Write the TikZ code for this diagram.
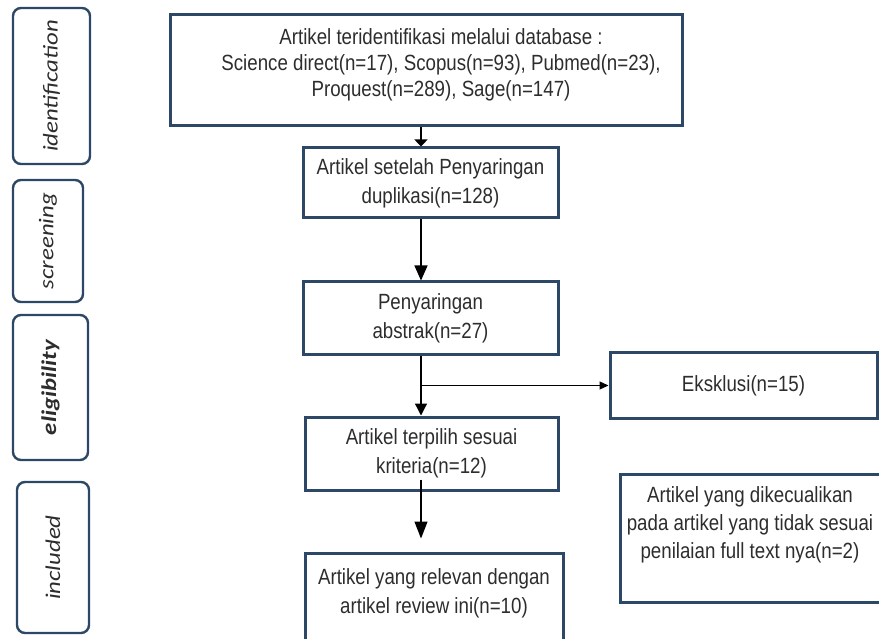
\documentclass[tikz,border=0pt]{standalone}
\usepackage{fontspec}
\setmainfont{Liberation Sans}[FakeStretch=0.85]
\newfontfamily\stagefont{Carlito}[FakeStretch=1.18]
\usetikzlibrary{arrows.meta, positioning}
\definecolor{boxblue}{RGB}{44,72,102}
\definecolor{txtgray}{RGB}{45,45,45}

\begin{document}
\begin{tikzpicture}[x=1pt, y=-1pt,
	boxtext/.style={text=txtgray, align=center, font=\fontsize{22}{29}\selectfont},
	flowbox/.style={boxtext, draw=boxblue, line width=3pt, rectangle, inner sep=0pt},
	stagebox/.style={draw=boxblue, line width=2.4pt, rounded corners=8pt, rotate=90, inner sep=0pt, text=txtgray, font=\stagefont\itshape\fontsize{21}{24}\selectfont},
	flowline/.style={line width=1.3pt, black}]
\useasboundingbox (0,0) rectangle (879,639);
\clip (0,0) rectangle (879,639);

% Draw stage labels
\node[stagebox, minimum width=156pt, minimum height=77pt] (stIdent) at (51.5,86) {identification};
\node[stagebox, minimum width=122pt, minimum height=70pt] (stScreen) at (48,241) {screening};
\node[stagebox, minimum width=145pt, minimum height=75pt, font=\stagefont\bfseries\itshape\fontsize{21}{24}\selectfont] (stElig) at (50.5,387.5) {eligibility};
\node[stagebox, minimum width=151pt, minimum height=72pt] (stIncl) at (53,557.5) {included};

% Draw flow boxes
\node[flowbox, minimum width=512pt, minimum height=111pt,
	label={[boxtext, font=\fontsize{22}{26}\selectfont, xshift=15pt, yshift=6pt]center:{Artikel teridentifikasi melalui database :\\ Science direct(n=17), Scopus(n=93), Pubmed(n=23),\\ Proquest(n=289), Sage(n=147)}}] (ident) at (426,70.5) {};
\node[flowbox, minimum width=255pt, minimum height=70pt] (dup) at (430.5,183) {Artikel setelah Penyaringan\\duplikasi(n=128)};
\node[flowbox, minimum width=255pt, minimum height=73pt] (abstr) at (430.5,318.5) {Penyaringan\\abstrak(n=27)};
\node[flowbox, minimum width=253pt, minimum height=73pt] (crit) at (431.5,453.5) {Artikel terpilih sesuai\\kriteria(n=12)};
\node[flowbox, minimum width=258pt, minimum height=112pt,
	label={[boxtext, yshift=16pt]center:{Artikel yang relevan dengan\\artikel review ini(n=10)}}] (rel) at (434,609) {};
\node[flowbox, minimum width=267pt, minimum height=65pt] (excl) at (743.5,385.5) {Eksklusi(n=15)};
\node[flowbox, minimum width=260pt, minimum height=128pt,
	label={[boxtext, font=\fontsize{22}{28}\selectfont, yshift=13pt]center:{Artikel yang dikecualikan\\pada artikel yang tidak sesuai\\penilaian full text nya(n=2)}}] (fulltext) at (750,538) {};

% Draw arrows
\coordinate (spine) at (421,0);
\draw[flowline, -{Triangle[length=7pt, width=13pt]}] (ident.south -| spine) -- (dup.north -| spine);
\draw[flowline, -{Triangle[length=15pt, width=13pt]}] (dup.south -| spine) -- (abstr.north -| spine);
\draw[flowline, -{Triangle[length=12pt, width=12pt]}] (abstr.south -| spine) -- (crit.north -| spine);
\draw[flowline, -{Triangle[length=9pt, width=8pt]}] (spine |- excl.west) -- (excl.west);
\draw[flowline, -{Triangle[length=17pt, width=13pt]}] ([yshift=12pt]crit.south -| spine) -- ([yshift=13pt]rel.north -| spine);
\end{tikzpicture}
\end{document}
